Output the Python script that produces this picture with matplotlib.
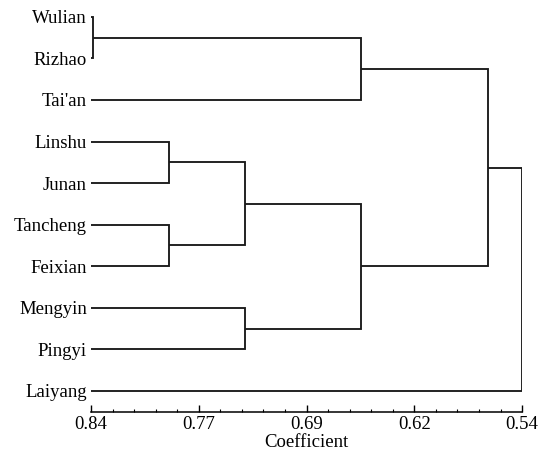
import matplotlib
matplotlib.use("Agg")
import matplotlib.pyplot as plt
import numpy as np

# ---- data ----
labels = ["Wulian", "Rizhao", "Tai'an", "Linshu", "Junan", "Tancheng",
          "Feixian", "Mengyin", "Pingyi", "Laiyang"]
# merges: (child_a, child_b, coefficient); new nodes numbered from len(labels)
merge_a = [0, 3, 5, 11, 7, 10, 13, 15, 17]
merge_b = [1, 4, 6, 12, 8, 2, 14, 16, 9]
merge_h = [0.8386, 0.786, 0.786, 0.733, 0.733, 0.652, 0.652, 0.564, 0.54]
tick_vals = [0.84, 0.765, 0.69, 0.615, 0.54]
tick_labels = ["0.84", "0.77", "0.69", "0.62", "0.54"]

plt.rcParams['font.family'] = ['Liberation Serif', 'DejaVu Serif']

fig = plt.figure(figsize=(5.52, 4.58), dpi=100)
ax = fig.add_axes([0.165, 0.1010, 0.7808, 0.8985])

n = len(labels)
ypos = {i: float(i) for i in range(n)}
xpos = {i: 0.84 for i in range(n)}
col = '#1a1a1a'
lw = 1.35
for k, (a, b, h) in enumerate(zip(merge_a, merge_b, merge_h)):
    node = n + k
    ya, yb = ypos[a], ypos[b]
    xa, xb = xpos[a], xpos[b]
    ax.plot([xa, h, h, xb], [ya, ya, yb, yb], color=col, lw=lw,
            solid_joinstyle='miter', solid_capstyle='butt')
    ypos[node] = (ya + yb) / 2
    xpos[node] = h

ax.set_xlim(0.84, 0.54)
ax.set_ylim(9.5, -0.4)
ax.set_yticks(range(n))
ax.set_yticklabels(labels, fontsize=13.5)
ax.tick_params(axis='y', length=0, pad=3)
ax.set_xticks(tick_vals)
ax.set_xticklabels(tick_labels, fontsize=13.5)
ax.set_xticks(np.arange(0.54, 0.8401, 0.015), minor=True)
ax.tick_params(axis='x', which='major', direction='in', length=5, width=1, pad=3)
ax.tick_params(axis='x', which='minor', direction='in', length=2.5, width=0.8)
for s in ['top', 'right', 'left']:
    ax.spines[s].set_visible(False)
ax.spines['bottom'].set_linewidth(1.1)
ax.set_xlabel("Coefficient", fontsize=13.5, labelpad=0.5)

fig.savefig("out.png", dpi=100)
